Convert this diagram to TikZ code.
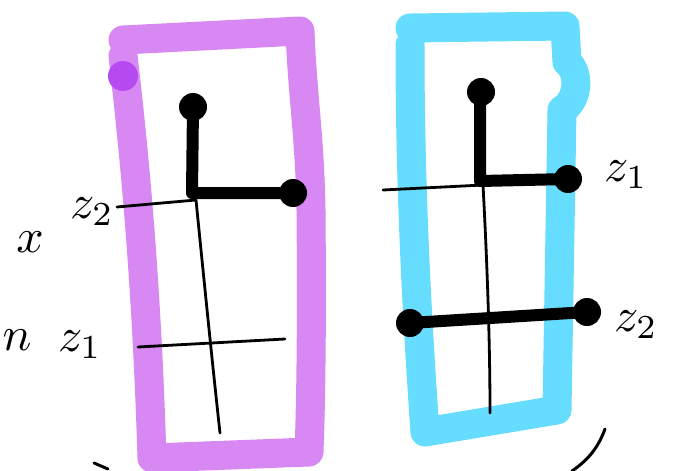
\documentclass[tikz,border=0pt]{standalone}
\definecolor{lilac}{HTML}{D888F2}
\definecolor{darklilac}{HTML}{B44AF0}
\definecolor{skyblue}{HTML}{66DDFF}
\tikzset{
  marker/.style={line width=29pt, line cap=round, line join=round},
  thinline/.style={line width=2.8pt, line cap=round},
  thickline/.style={line width=12pt, line cap=round, line join=round},
  blob/.style={fill=black, circle, inner sep=0pt, minimum size=28pt},
  hand/.style={inner sep=0pt}
}
\newcommand{\handtext}[1]{\scalebox{4.8}{#1}}
\begin{document}
\begin{tikzpicture}[x=1pt,y=-1pt]
\useasboundingbox (0,0) rectangle (683,471);
\clip (0,0) rectangle (683,471);
% left frame
\draw[marker, lilac] (123,40) -- (300,31) .. controls (302,90) and (310,140) .. (311,210)
  .. controls (312,320) and (311,400) .. (309,452) -- (152,458) .. controls (148,330) and (140,200) .. (123,56);
\fill[darklilac] (123,76) circle (15pt);
\draw[thinline] (117,207) -- (196,200);
\draw[thinline] (196,200) .. controls (204,280) and (212,360) .. (220,433);
\draw[thinline] (138,347) -- (285,339);
\draw[thickline] (193,107) -- (192,193) -- (293,193);
\node[blob] (ptopa) at (193,107) {};
\node[blob] (prighta) at (293,193) {};
\node[hand] (zleftb) at (92,212) {\handtext{$z_2$}};
\node[hand] (zlefta) at (80,345) {\handtext{$z_1$}};
\node[hand] (xmark) at (30,242) {\handtext{$x$}};
\node[hand] (nmark) at (17,340) {\handtext{$n$}};
\draw[line width=3pt, line cap=round] (94,463) -- (108,469);
% right frame
\draw[marker, skyblue] (410,28) -- (565,26) -- (567,62) .. controls (580,72) and (579,100) .. (562,110)
  -- (557,410) -- (425,432) .. controls (418,330) and (410,200) .. (410,45);
\draw[thinline] (383,190) -- (483,185);
\draw[thinline] (483,185) .. controls (487,260) and (490,340) .. (490,413);
\draw[thickline] (480,92) -- (480,181) -- (568,179);
\node[blob] (ptopb) at (481,92) {};
\node[blob] (prightb) at (568,179) {};
\node[blob] (pleftb) at (410,323) {};
\node[blob] (prightc) at (587,312) {};
\draw[thickline] (pleftb.center) -- (prightc.center);
\node[hand] (zrighta) at (626,175) {\handtext{$z_1$}};
\node[hand] (zrightb) at (636,325) {\handtext{$z_2$}};
\draw[line width=3pt, line cap=round] (605,429) .. controls (598,448) and (588,460) .. (572,471);
\end{tikzpicture}
\end{document}
